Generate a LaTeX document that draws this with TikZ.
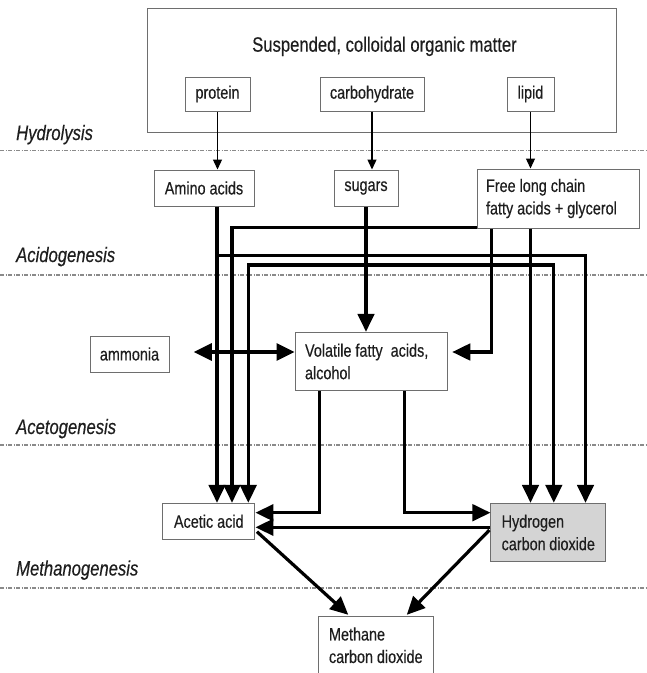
\documentclass[tikz,border=0pt]{standalone}
\usepackage{fontspec}
\setmainfont{Liberation Sans}[FakeStretch=0.8,FakeBold=0.35]
\usetikzlibrary{arrows.meta,calc}
\definecolor{boxgray}{HTML}{6E6E6E}
\definecolor{stagegray}{HTML}{8A8A8A}
\definecolor{hfill}{HTML}{D4D4D4}
\definecolor{inkc}{HTML}{1E1E1E}
\newcommand\txtfont{\fontsize{18}{22.5}\selectfont}
\newcommand\bigtxtfont{\fontsize{20.8}{24}\selectfont}
\begin{document}
\begin{tikzpicture}[x=1pt,y=-1pt,
  box/.style={draw=boxgray, line width=1pt, fill=white, inner sep=0pt, font=\txtfont, text=inkc},
  mbox/.style={box, align=flush left},
  stage/.style={draw=stagegray, line width=1.1pt, dash pattern=on 4pt off 1.5pt on 1pt off 1.5pt},
  stagelabel/.style={anchor=base west, inner sep=0pt, font=\bigtxtfont\itshape, text=inkc},
  thn/.style={draw=black, line width=1.3pt, -{Triangle[length=10pt,width=9pt]}},
  thk/.style={draw=black, line width=3.2pt, -{Triangle[length=18pt,width=16.5pt]}},
  dbl/.style={draw=black, line width=3.2pt, {Triangle[length=18pt,width=17pt]}-{Triangle[length=18pt,width=17pt]}}
]
\useasboundingbox (0,0) rectangle (647,673);
\fill[white] (0,0) rectangle (647,673);

% stage separators
\draw[stage] (0,150.7) -- (647,150.7);
\draw[stage] (0,275) -- (647,275);
\draw[stage] (0,445) -- (647,445);
\draw[stage] (0,588) -- (647,588);

\node[stagelabel] (lhyd) at (16,140) {Hydrolysis};
\node[stagelabel] (lacid) at (16,262) {Acidogenesis};
\node[stagelabel] (lacet) at (16,434) {Acetogenesis};
\node[stagelabel] (lmeth) at (16,575.5) {Methanogenesis};

% top container
\node[draw=boxgray, line width=1pt, minimum width=469pt, minimum height=124pt, inner sep=0pt] (outer) at (381.5,70) {};
\node[anchor=base, inner sep=0pt, font=\bigtxtfont, text=inkc] (title) at (384.5,51.7) {Suspended, colloidal organic matter};
\node[box, minimum width=65pt, minimum height=34pt] (protein) at (217.5,94) {protein};
\node[box, minimum width=104pt, minimum height=34pt] (carb) at (372,94) {carbohydrate};
\node[box, minimum width=47pt, minimum height=34pt] (lipid) at (530.5,94) {lipid};

% hydrolysis products
\node[box, minimum width=100pt, minimum height=36pt] (amino) at (204,188) {Amino acids};
\node[box, minimum width=64pt, minimum height=36pt] (sugars) at (366,188) {sugars};
\node[mbox, minimum width=162pt, minimum height=59pt, text width=144pt, inner xsep=9pt] (free) at (558,198.5) {Free long chain\\fatty acids + glycerol};

% acidogenesis products
\node[box, minimum width=79pt, minimum height=36pt] (ammonia) at (129.5,354) {ammonia};
\node[mbox, minimum width=152.3pt, minimum height=58.4pt, text width=132.3pt, inner xsep=10pt] (vfa) at (371.2,361.5) {Volatile fatty~ acids,\\alcohol};

% acetogenesis products
\node[box, minimum width=92.3pt, minimum height=36pt] (acetic) at (208.8,521.3) {Acetic acid};
\node[mbox, fill=hfill, minimum width=114.7pt, minimum height=58.4pt, text width=93.3pt, inner xsep=10.7pt] (hydrogen) at (548.3,532.5) {Hydrogen\\carbon dioxide};

% methanogenesis product
\node[mbox, minimum width=115pt, minimum height=57pt, text width=93.6pt, inner xsep=10.7pt] (methane) at (375.8,645.3) {Methane\\carbon dioxide};

% lanes
\coordinate (lA) at (217,0);
\coordinate (lB) at (232,0);
\coordinate (lC) at (248.3,0);
\coordinate (lD) at (319.3,0);
\coordinate (lS) at (366,0);
\coordinate (lE) at (404.5,0);
\coordinate (lF) at (491.5,0);
\coordinate (lG) at (530.5,0);
\coordinate (lH) at (553.8,0);
\coordinate (lI) at (585.5,0);
\coordinate (hFree) at (0,227.5);
\coordinate (hAm) at (0,255.7);
\coordinate (hSu) at (0,265);
\coordinate (hMid) at (0,352);
\coordinate (hV) at (0,512.7);
\coordinate (hHA) at (0,527.3);

% hydrolysis arrows
\draw[thn] (protein.south) -- (protein.south |- amino.north);
\draw[thn] (carb.south) -- (carb.south |- sugars.north);
\draw[thn] (lipid.south) -- (lipid.south |- free.north);

% amino acids
\draw[thk] (amino.south -| lA) -- (acetic.north -| lA);
\draw[thk] (amino.south -| lA) -- (lA |- hAm) -- (lI |- hAm) -- (hydrogen.north -| lI);

% sugars
\draw[thk] (sugars.south -| lS) -- (vfa.north -| lS);
\draw[thk] (lS |- hSu) -- (lC |- hSu) -- (acetic.north -| lC);
\draw[thk] (lS |- hSu) -- (lH |- hSu) -- (hydrogen.north -| lH);

% free long chain fatty acids
\draw[thk] (free.west |- hFree) -- (lB |- hFree) -- (acetic.north -| lB);
\draw[thk] (free.south -| lF) -- (lF |- hMid) -- ($(vfa.east |- hMid)+(4.4,0)$);
\draw[thk] (free.south -| lG) -- (hydrogen.north -| lG);

% ammonia <-> VFA
\draw[dbl] ($(ammonia.east |- hMid)+(24.3,0)$) -- (vfa.west |- hMid);

% VFA -> acetic / hydrogen
\draw[thk] (vfa.south -| lD) -- (lD |- hV) -- (acetic.east |- hV);
\draw[thk] (vfa.south -| lE) -- (lE |- hV) -- (hydrogen.west |- hV);

% hydrogen -> acetic
\draw[thk] (hydrogen.west |- hHA) -- (acetic.east |- hHA);

% methanogenesis
\draw[thk] ($(acetic.east)+(1.5,10.4)$) -- ($(methane.north)+(-27.5,-1.5)$);
\draw[thk] ($(hydrogen.west)+(-1,-2.5)$) -- ($(methane.north)+(31,-1.5)$);
\end{tikzpicture}
\end{document}
